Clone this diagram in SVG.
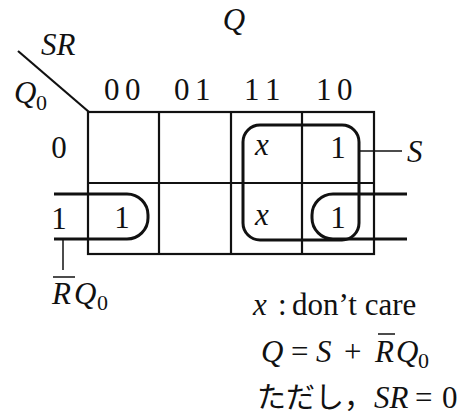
<svg xmlns="http://www.w3.org/2000/svg" width="470" height="420" viewBox="0 0 470 420">
<style>
text{font-family:"Liberation Serif","DejaVu Serif",serif;font-size:31px;fill:#111}
.i{font-style:italic}
.m{text-anchor:middle}
.sub{font-size:22px}
.jp{font-family:"Noto Sans CJK JP","Liberation Serif",serif;font-size:29px}
.grid{fill:none;stroke:#111;stroke-width:2.2}
.loop{fill:none;stroke:#111;stroke-width:3}
.thin{fill:none;stroke:#111;stroke-width:1.5}
</style>
<rect width="470" height="420" fill="#fff"/>
<g id="headers">
<text class="i m" x="234" y="30">Q</text>
<text class="i" x="41" y="55">SR</text>
<text class="i" x="14" y="103">Q</text><text class="sub" x="36" y="110">0</text>
<text x="104" y="100">0<tspan x="125">0</tspan></text>
<text x="174" y="100">0<tspan x="195">1</tspan></text>
<text x="244" y="100">1<tspan x="265">1</tspan></text>
<text x="316" y="100">1<tspan x="337">0</tspan></text>
<text class="m" x="59" y="158">0</text>
<text class="m" x="59" y="229">1</text>
</g>
<g id="grid">
<line class="grid" x1="18" y1="51" x2="89" y2="112"/>
<rect class="grid" x="88" y="112" width="286" height="142"/>
<line class="grid" x1="159" y1="112" x2="159" y2="254"/>
<line class="grid" x1="231" y1="112" x2="231" y2="254"/>
<line class="grid" x1="302" y1="112" x2="302" y2="254"/>
<line class="grid" x1="88" y1="183" x2="374" y2="183"/>
</g>
<g id="cells">
<text class="i m" x="262" y="155">x</text>
<text class="m" x="338" y="158">1</text>
<text class="i m" x="262" y="225">x</text>
<text class="m" x="338" y="228">1</text>
<text class="m" x="122" y="228">1</text>
</g>
<g id="connectors">
<rect id="loopS" class="loop" x="243" y="125" width="116" height="115" rx="17"/>
<path id="loopRQ1" class="loop" d="M54,194 H127 A21,21 0 0 1 148,215 V218 A21,21 0 0 1 127,239 H54"/>
<path id="loopRQ2" class="loop" d="M407,194 H333 A21,21 0 0 0 312,215 V218 A21,21 0 0 0 333,239 H407"/>
<line class="thin" x1="360" y1="151" x2="402" y2="151"/>
<line class="thin" x1="63" y1="239" x2="63" y2="270"/>
</g>
<g id="labelS"><text class="i" x="407" y="162">S</text></g>
<g id="labelRQ0">
<line class="thin" x1="53" y1="277" x2="75" y2="277"/>
<text class="i" x="52" y="304">R<tspan x="74">Q</tspan></text><text class="sub" x="97" y="310">0</text>
</g>
<g id="notes">
<text x="253" y="315"><tspan class="i">x</tspan><tspan x="278">:</tspan><tspan x="292">don’t care</tspan></text>
<text x="261" y="362"><tspan class="i">Q</tspan><tspan x="291">=</tspan><tspan class="i" x="316">S</tspan><tspan x="344">+</tspan><tspan class="i" x="375">R</tspan><tspan class="i" x="396">Q</tspan></text>
<text class="sub" x="418" y="368">0</text>
<line class="thin" x1="378" y1="334" x2="395" y2="334"/>
<text class="jp" x="257" y="408">ただし，</text>
<text x="374" y="408"><tspan class="i">SR</tspan><tspan x="415">=</tspan><tspan x="442">0</tspan></text>
</g>
</svg>
